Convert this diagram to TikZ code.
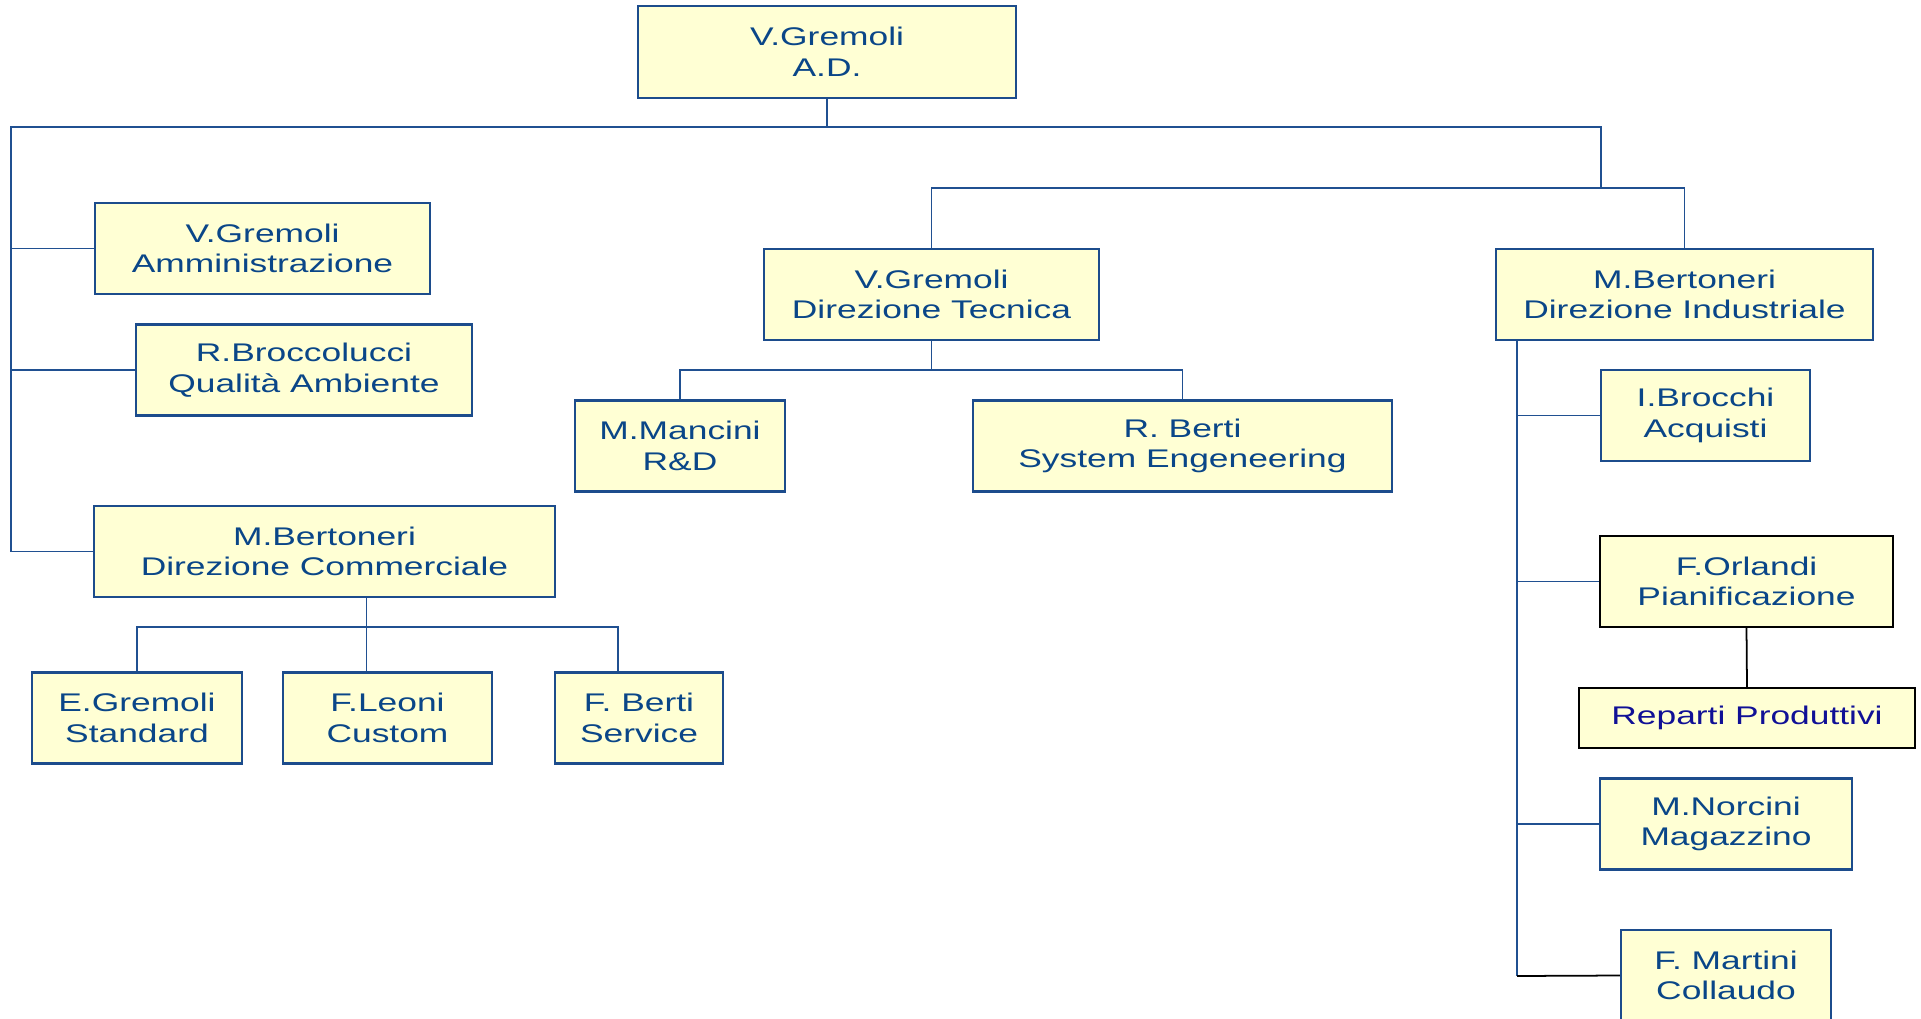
\documentclass[tikz,border=0pt]{standalone}
\usepackage{fontspec}
\setmainfont{Liberation Sans}[FakeStretch=1.385]
\definecolor{textblue}{RGB}{10,70,136}
\definecolor{boxblue}{RGB}{28,76,140}
\definecolor{lineblue}{RGB}{32,80,145}
\definecolor{boxfill}{RGB}{255,255,212}
\definecolor{darkviolet}{RGB}{16,16,150}
\newcommand{\orgfont}{\fontsize{7.26pt}{8.71pt}\selectfont}
\tikzset{
    orgbox/.style={draw=boxblue, fill=boxfill, line width=0.6pt, text=textblue, font=\orgfont,
        align=center, inner sep=0pt, minimum height=0.91cm},
    blackbox/.style={orgbox, draw=black},
    link/.style={lineblue, line width=0.5pt},
    blacklink/.style={black, line width=0.5pt},
}
\begin{document}
\begin{tikzpicture}[x=0.01cm,y=-0.01cm]
    \useasboundingbox (0,0) rectangle (1921,1018);
    \node[orgbox, minimum width=3.78cm, minimum height=0.92cm] (ad) at (827,52) {V.Gremoli\\A.D.};
    \node[orgbox, minimum width=3.35cm] (amm) at (262.5,248.5) {V.Gremoli\\Amministrazione};
    \node[orgbox, minimum width=3.36cm] (qual) at (304,370) {R.Broccolucci\\Qualità Ambiente};
    \node[orgbox, minimum width=4.61cm] (comm) at (324.5,551.5) {M.Bertoneri\\Direzione Commerciale};
    \node[orgbox, minimum width=2.10cm] (std) at (137,718) {E.Gremoli\\Standard};
    \node[orgbox, minimum width=2.09cm] (cust) at (387.5,718) {F.Leoni\\Custom};
    \node[orgbox, minimum width=1.68cm] (serv) at (639,718) {F. Berti\\Service};
    \node[orgbox, minimum width=3.35cm] (tec) at (931.5,294.5) {V.Gremoli\\Direzione Tecnica};
    \node[orgbox, minimum width=2.10cm] (rd) at (680,446) {M.Mancini\\R\&D};
    \node[orgbox, minimum width=4.19cm] (se) at (1182.5,446) {R. Berti\\System Engeneering};
    \node[orgbox, minimum width=3.77cm] (ind) at (1684.5,294.5) {M.Bertoneri\\Direzione Industriale};
    \node[orgbox, minimum width=2.09cm] (acq) at (1705.5,415.5) {I.Brocchi\\Acquisti};
    \node[blackbox, minimum width=2.93cm] (pian) at (1746.5,581.5) {F.Orlandi\\Pianificazione};
    \node[blackbox, minimum width=3.36cm, minimum height=0.60cm, text=darkviolet] (rep) at (1747,718) {Reparti Produttivi};
    \node[orgbox, minimum width=2.52cm] (mag) at (1726,824) {M.Norcini\\Magazzino};
    \node[orgbox, minimum width=2.10cm] (coll) at (1726,975.5) {F. Martini\\Collaudo};

    \coordinate (lbus) at (11,127);
    \coordinate (rbus) at (1601,127);
    \coordinate (dbus) at (1601,188);
    \coordinate (cbus) at (366.5,627);
    \coordinate (sbus) at (618,627);
    \coordinate (tbus) at (931.5,370);
    \coordinate (ibot) at (1517,976);

    \draw[link] (ad.south) -- (ad.south |- lbus);
    \draw[link] (comm.west) -| (lbus) -- (rbus) -- (dbus);
    \foreach \n in {amm,qual}{
        \draw[link] (\n.west) -- (\n.west -| lbus);
    }
    \draw[link] (comm.south -| cbus) -- (cust.north -| cbus);
    \draw[link] (std.north) |- (sbus) -- (sbus |- serv.north);
    \draw[link] (tec.north) |- (dbus) -| (ind.north);
    \draw[link] (tec.south) -- (tbus);
    \draw[link] (rd.north) |- (tbus) -| (se.north);
    \draw[link] (ind.south -| ibot) -- (ibot);
    \foreach \n in {acq,pian,mag}{
        \draw[link] (\n.west) -- (\n.west -| ibot);
    }
    \draw[blacklink] (coll.west) -- (ibot);
    \draw[blacklink] (pian.south) -- (rep.north);
\end{tikzpicture}
\end{document}
